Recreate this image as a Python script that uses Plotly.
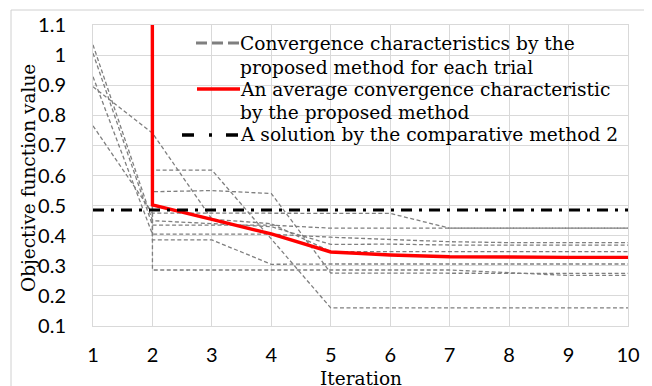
import plotly.graph_objects as go

iterations = [1, 2, 3, 4, 5, 6, 7, 8, 9, 10]

# Per-trial convergence values (off-chart initial values are very large)
trial_1 = [1.034, 0.450, 0.440, 0.430, 0.371, 0.372, 0.369, 0.369, 0.369, 0.369]
trial_2 = [1.006, 0.435, 0.435, 0.435, 0.425, 0.425, 0.425, 0.425, 0.425, 0.425]
trial_3 = [0.928, 0.405, 0.405, 0.405, 0.395, 0.388, 0.380, 0.377, 0.377, 0.377]
trial_4 = [0.895, 0.741, 0.455, 0.440, 0.347, 0.347, 0.347, 0.347, 0.347, 0.347]
trial_5 = [0.765, 0.475, 0.475, 0.475, 0.476, 0.474, 0.425, 0.425, 0.425, 0.425]
trial_6 = [1000.0, 0.618, 0.618, 0.390, 0.160, 0.160, 0.160, 0.160, 0.160, 0.160]
trial_7 = [1000.0, 0.546, 0.550, 0.540, 0.276, 0.275, 0.275, 0.275, 0.275, 0.275]
trial_8 = [1000.0, 0.286, 0.286, 0.286, 0.286, 0.286, 0.286, 0.277, 0.268, 0.268]
trial_9 = [1000.0, 0.386, 0.386, 0.305, 0.306, 0.306, 0.306, 0.306, 0.306, 0.306]
trials = [trial_1, trial_2, trial_3, trial_4, trial_5, trial_6, trial_7, trial_8, trial_9]

average = [445.0, 0.502, 0.454, 0.406, 0.346, 0.336, 0.330, 0.328, 0.328, 0.328]
comparative_2 = [0.485] * 10

y_ticks = [0.1, 0.2, 0.3, 0.4, 0.5, 0.6, 0.7, 0.8, 0.9, 1.0, 1.1]
y_tick_text = ["0.1", "0.2", "0.3", "0.4", "0.5", "0.6", "0.7", "0.8", "0.9", "1", "1.1"]

x_title = "Iteration"
y_title = "Objective function value"

legend_lines = [
    ["Convergence characteristics by the", "proposed method for each trial"],
    ["An average convergence characteristic", "by the proposed method"],
    ["A solution by the comparative method 2"],
]

GRAY = "#7f7f7f"
RED = "#ff0000"
BLACK = "#000000"
TRIAL_DASH = "4px,2.5px"
COMP_DASH = "11px,7px,3px,7px"

fig = go.Figure()
for i, t in enumerate(trials):
    fig.add_trace(go.Scatter(
        x=iterations, y=t, mode="lines",
        line=dict(color=GRAY, width=1.3, dash=TRIAL_DASH),
        name=" ".join(legend_lines[0]), legendgroup="trials",
        showlegend=False, hoverinfo="skip",
    ))
fig.add_trace(go.Scatter(
    x=iterations, y=average, mode="lines",
    line=dict(color=RED, width=3.4),
    name=" ".join(legend_lines[1]), showlegend=False,
))
fig.add_trace(go.Scatter(
    x=iterations, y=comparative_2, mode="lines",
    line=dict(color=BLACK, width=3, dash=COMP_DASH),
    name=legend_lines[2][0], showlegend=False,
))

# ---- helpers: window px -> paper coords of the plot area ----
PLOT_L, PLOT_R, PLOT_T, PLOT_B = 93, 628, 25, 326
def px(x):
    return (x - PLOT_L) / (PLOT_R - PLOT_L)
def py(y):
    return (PLOT_B - y) / (PLOT_B - PLOT_T)

# ---- legend (key drawn in paper coordinates) ----
legend_font = dict(family="DejaVu Serif", size=18.6, color="#000000")
text_x = 239
line_rows = [[44, 67], [90, 112], [135]]
key_rows = [
    dict(y=43, x0=196, color=GRAY, width=3, dash="11px,5px"),
    dict(y=89, x0=197, color=RED, width=3.5, dash="solid"),
    dict(y=135, x0=182, color=BLACK, width=3.5, dash="12px,15px,3px,14px,12px"),
]
shapes = []
annotations = []
for lines, rows, key in zip(legend_lines, line_rows, key_rows):
    shapes.append(dict(
        type="line", xref="paper", yref="paper",
        x0=px(key["x0"]), x1=px(text_x + 1), y0=py(key["y"]), y1=py(key["y"]),
        line=dict(color=key["color"], width=key["width"], dash=key["dash"]),
    ))
    for txt, yy in zip(lines, rows):
        annotations.append(dict(
            text=txt, xref="paper", yref="paper", x=px(text_x), y=py(yy),
            xanchor="left", yanchor="middle", showarrow=False,
            font=legend_font, borderpad=0,
        ))

# axis titles
title_font = dict(family="DejaVu Serif", size=18.5, color="#000000")
annotations.append(dict(
    text=x_title, xref="paper", yref="paper", x=px(361), y=py(378),
    xanchor="center", yanchor="middle", showarrow=False, font=title_font, borderpad=0,
))
annotations.append(dict(
    text=y_title, xref="paper", yref="paper", x=px(28), y=py(178),
    xanchor="center", yanchor="middle", showarrow=False, font=title_font,
    textangle=-90, borderpad=0,
))

# outer chart frame
shapes.append(dict(
    type="rect", xref="paper", yref="paper",
    x0=px(11), x1=px(645), y0=py(400), y1=py(10),
    line=dict(color="#d0d0d0", width=1), fillcolor="rgba(0,0,0,0)", layer="above",
))

tick_font = dict(family="Lato", size=20, color="#000000")

# the page body adds an 8px offset; figure sized to fill the remaining window
fig.update_layout(
    width=644, height=378,
    margin=dict(l=85, r=24, t=17, b=60),
    paper_bgcolor="white", plot_bgcolor="white",
    showlegend=False,
    xaxis=dict(
        range=[1, 10], tickvals=iterations, automargin=False,
        showgrid=True, gridcolor="#d9d9d9", gridwidth=1,
        showline=True, mirror=True, linecolor="#d9d9d9", linewidth=1,
        zeroline=False, ticks="", ticklabelstandoff=11,
        tickfont=tick_font,
    ),
    yaxis=dict(
        range=[0.1, 1.1], tickvals=y_ticks, ticktext=y_tick_text, automargin=False,
        showgrid=True, gridcolor="#d9d9d9", gridwidth=1,
        showline=True, mirror=True, linecolor="#d9d9d9", linewidth=1,
        zeroline=False, ticks="", ticklabelstandoff=22,
        tickfont=tick_font,
    ),
    shapes=shapes,
    annotations=annotations,
)

fig.write_html("out.html")
